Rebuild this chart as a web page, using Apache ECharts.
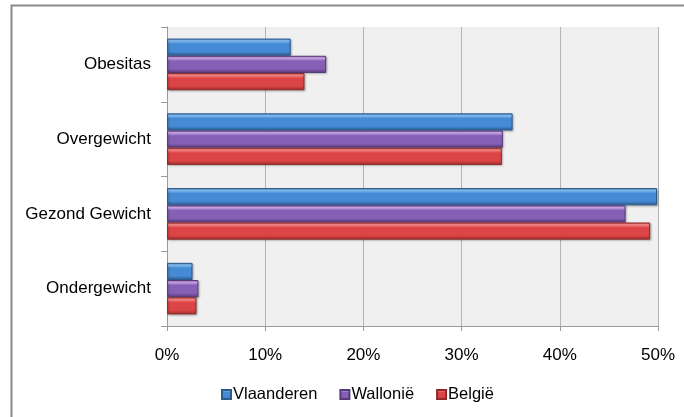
<!DOCTYPE html>
<html>
<head>
<meta charset="utf-8">
<script src="https://cdn.jsdelivr.net/npm/echarts@6/dist/echarts.min.js"></script>
<style>
  html, body { margin: 0; padding: 0; background: #ffffff; }
  #chart { width: 684px; height: 417px; }
</style>
</head>
<body>
<div id="chart"></div>
<script>
// Weight classes, listed from top to bottom
const categories = ['Obesitas', 'Overgewicht', 'Gezond Gewicht', 'Ondergewicht'];

// Share of the population per region (%)
const vlaanderen = [12.6, 35.2, 49.9, 2.6];
const wallonie   = [16.2, 34.2, 46.7, 3.2];
const belgie     = [14.0, 34.1, 49.2, 3.0];

const xTicks = [0, 10, 20, 30, 40, 50];

function bevel(light, mid, dark) {
  return new echarts.graphic.LinearGradient(0, 0, 0, 1, [
    { offset: 0, color: mid },
    { offset: 0.12, color: light },
    { offset: 0.3, color: mid },
    { offset: 0.75, color: mid },
    { offset: 1, color: dark }
  ]);
}

const chart = echarts.init(document.getElementById('chart'), null, { renderer: 'canvas' });

const font = 'Liberation Sans, Arial, sans-serif';

const barStyle = (light, mid, dark, border) => ({
  color: bevel(light, mid, dark),
  borderColor: border,
  borderWidth: 1,
  shadowColor: 'rgba(0,0,0,0.25)',
  shadowBlur: 2,
  shadowOffsetX: 1,
  shadowOffsetY: 1
});

chart.setOption({
  animation: false,
  backgroundColor: '#ffffff',
  graphic: [{
    type: 'rect',
    shape: { x: 11.5, y: 5.5, width: 700, height: 500 },
    style: { fill: 'none', stroke: '#8a8a8a', lineWidth: 2 },
    silent: true
  }],
  legend: {
    data: ['Vlaanderen', 'Wallonië', 'België'],
    bottom: 9,
    left: 216,
    itemWidth: 9,
    itemHeight: 9,
    itemGap: 22,
    icon: 'rect',
    textStyle: { fontFamily: font, fontSize: 16.5, color: '#000', padding: [0, 0, 0, -3] }
  },
  grid: {
    left: 167, right: 26, top: 27, bottom: 91,
    show: true, backgroundColor: '#f0f0f0', borderWidth: 0
  },
  xAxis: {
    type: 'value',
    min: 0, max: 50, interval: 10,
    axisLine: { show: true, lineStyle: { color: '#9a9a9a' } },
    axisTick: { show: true, length: 5, lineStyle: { color: '#9a9a9a' } },
    splitLine: { show: true, lineStyle: { color: '#b4b4b4', width: 1 } },
    axisLabel: {
      fontFamily: font, fontSize: 17, color: '#000', margin: 21,
      formatter: v => xTicks.includes(v) ? v + '%' : ''
    }
  },
  yAxis: {
    type: 'category',
    inverse: true,
    data: categories,
    axisLine: { show: true, lineStyle: { color: '#9a9a9a' } },
    axisTick: { show: true, length: 6, lineStyle: { color: '#9a9a9a' } },
    axisLabel: { fontFamily: font, fontSize: 17, color: '#000', margin: 16 }
  },
  series: [
    {
      name: 'Vlaanderen', type: 'bar', data: vlaanderen,
      barGap: '0%', barCategoryGap: '31%',
      itemStyle: barStyle('#8cc8fa', '#4689d4', '#2b5c95', '#2c5a8c')
    },
    {
      name: 'Wallonië', type: 'bar', data: wallonie,
      barGap: '0%', barCategoryGap: '31%',
      itemStyle: barStyle('#d6b2f5', '#8660b6', '#573b7c', '#553a78')
    },
    {
      name: 'België', type: 'bar', data: belgie,
      barGap: '0%', barCategoryGap: '31%',
      itemStyle: barStyle('#ff9090', '#dc4545', '#a22d2d', '#8e2a2a')
    }
  ]
});
</script>
</body>
</html>
